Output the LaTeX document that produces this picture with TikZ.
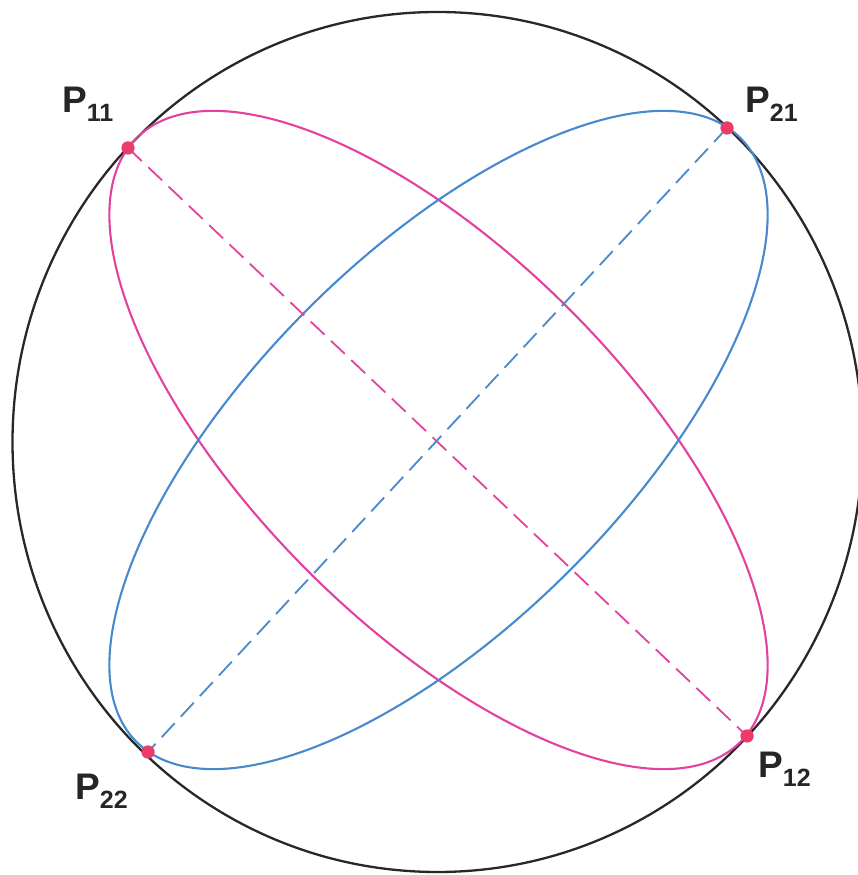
\documentclass[tikz,border=0pt]{standalone}
\usepackage{fontspec}
\setmainfont{Liberation Sans}
\definecolor{pinkc}{RGB}{226,66,158}
\definecolor{bluec}{RGB}{70,138,205}
\definecolor{dotc}{RGB}{235,60,105}
\definecolor{circc}{RGB}{40,40,40}
\newcommand{\plabel}[2]{\bfseries\fontsize{37}{37}\selectfont #1\raisebox{-9pt}{\fontsize{25}{25}\selectfont #2}}
\begin{document}
\begin{tikzpicture}[x=1pt,y=1pt,
  bigcirc/.style={draw=circc,line width=2.3pt},
  pinkell/.style={draw=pinkc,line width=2.1pt},
  blueell/.style={draw=bluec,line width=2.1pt},
  pinkdash/.style={draw=pinkc,line width=1.8pt,dash pattern=on 19pt off 9pt},
  bluedash/.style={draw=bluec,line width=1.8pt,dash pattern=on 19pt off 9pt},
  dotnode/.style={circle,fill=dotc,inner sep=0pt,minimum size=13pt},
  lab/.style={anchor=base west,inner sep=0pt,text=black!85}]
\useasboundingbox (0,0) rectangle (858,875);
\coordinate (O) at (437.5,433);
\coordinate (EC) at (438.5,435);
\draw[bigcirc] (O) ellipse [x radius=425, y radius=430];
\draw[pinkell, rotate around={-45:(EC)}] (EC) ellipse [x radius=427, y radius=185];
\draw[blueell, rotate around={45:(EC)}] (EC) ellipse [x radius=427, y radius=185];
\node[dotnode] (P11) at (128,727) {};
\node[dotnode] (P12) at (747,139) {};
\node[dotnode] (P21) at (727,747) {};
\node[dotnode] (P22) at (148,123) {};
\draw[pinkdash] (P11.center) -- (P12.center);
\draw[bluedash] (P21.center) -- (P22.center);
\node[dotnode] at (P11) {};
\node[dotnode] at (P12) {};
\node[dotnode] at (P21) {};
\node[dotnode] at (P22) {};
\node[lab] (L11) at (62,762) {\plabel{P}{11}};
\node[lab] (L21) at (745,762) {\plabel{P}{21}};
\node[lab] (L22) at (75,75) {\plabel{P}{22}};
\node[lab] (L12) at (758,97) {\plabel{P}{12}};
\end{tikzpicture}
\end{document}
